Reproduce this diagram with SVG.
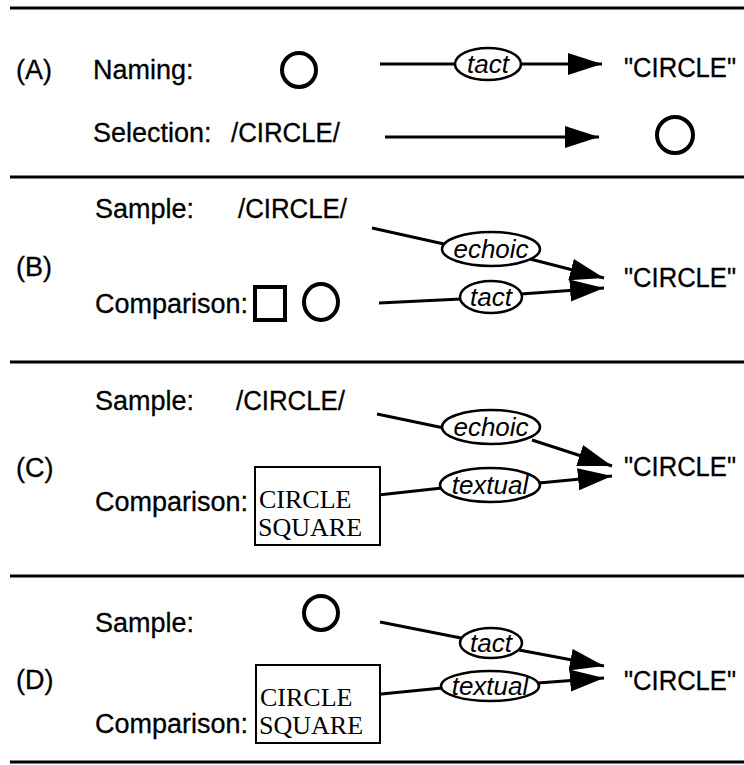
<svg xmlns="http://www.w3.org/2000/svg" width="744" height="765" viewBox="0 0 744 765">
  <defs>
    <marker id="head" markerUnits="userSpaceOnUse" markerWidth="36" markerHeight="24" refX="34" refY="11" orient="auto">
      <path d="M0,0 L34,11 L0,22 Z" fill="#000"/>
    </marker>
    <style>
      .sans { font-family: "Liberation Sans", Arial, sans-serif; font-size: 27px; fill: #000; stroke: #000; stroke-width: 0.3; }
      .lbl { font-family: "Liberation Sans", Arial, sans-serif; font-size: 26px; font-style: italic; fill: #000; text-anchor: middle; }
      .serif { font-family: "Liberation Serif", "Times New Roman", serif; font-size: 26px; fill: #000; }
      .rule { stroke: #000; stroke-width: 3; }
      .wire { stroke: #000; stroke-width: 3; fill: none; }
      .arrow { stroke: #000; stroke-width: 3; fill: none; marker-end: url(#head); }
      .oval { fill: #fff; stroke: #000; stroke-width: 2.5; }
      .shape { fill: none; stroke: #000; stroke-width: 4; }
      .box { fill: #fff; stroke: #000; stroke-width: 2; }
    </style>
  </defs>
  <rect width="744" height="765" fill="#fff"/>

  <!-- section rules -->
  <g id="rules">
    <line class="rule" x1="10" y1="8" x2="744" y2="8"/>
    <line class="rule" x1="10" y1="177" x2="744" y2="177"/>
    <line class="rule" x1="10" y1="362" x2="744" y2="362"/>
    <line class="rule" x1="10" y1="576" x2="744" y2="576"/>
    <line class="rule" x1="10" y1="762" x2="744" y2="762"/>
  </g>

  <!-- connectors -->
  <g id="connectors">
    <!-- A: naming -->
    <line class="wire" x1="380" y1="64" x2="455" y2="64"/>
    <line class="arrow" x1="521" y1="64" x2="602" y2="64"/>
    <!-- A: selection -->
    <line class="arrow" x1="385" y1="137" x2="599" y2="137"/>
    <!-- B -->
    <line class="wire" x1="372" y1="228" x2="444" y2="244"/>
    <line class="arrow" x1="530" y1="259" x2="604" y2="278"/>
    <line class="wire" x1="379" y1="303" x2="461" y2="299"/>
    <line class="arrow" x1="521" y1="294" x2="604" y2="288"/>
    <!-- C -->
    <line class="wire" x1="377" y1="414" x2="444" y2="428"/>
    <line class="arrow" x1="532" y1="440" x2="612" y2="466"/>
    <line class="wire" x1="351" y1="498" x2="442" y2="488"/>
    <line class="arrow" x1="539" y1="483" x2="612" y2="476"/>
    <!-- D -->
    <line class="wire" x1="380" y1="622" x2="461" y2="638"/>
    <line class="arrow" x1="519" y1="650" x2="604" y2="666"/>
    <line class="wire" x1="351" y1="697" x2="442" y2="688"/>
    <line class="arrow" x1="538" y1="683" x2="604" y2="678"/>
  </g>

  <!-- section A -->
  <g id="sectionA">
    <text class="sans" x="16" y="79">(A)</text>
    <text class="sans" x="93" y="79">Naming:</text>
    <circle class="shape" cx="299" cy="70" r="17"/>
    <g id="tactA">
      <ellipse class="oval" cx="488" cy="64" rx="33" ry="16"/>
      <text class="lbl" x="488" y="73">tact</text>
    </g>
    <text class="sans" x="624" y="77" textLength="112" lengthAdjust="spacingAndGlyphs">"CIRCLE"</text>
    <text class="sans" x="93" y="142">Selection:</text>
    <text class="sans" x="231" y="142" textLength="109" lengthAdjust="spacingAndGlyphs">/CIRCLE/</text>
    <circle class="shape" cx="675" cy="135" r="18"/>
  </g>

  <!-- section B -->
  <g id="sectionB">
    <text class="sans" x="16" y="276">(B)</text>
    <text class="sans" x="95" y="218">Sample:</text>
    <text class="sans" x="238" y="218" textLength="109" lengthAdjust="spacingAndGlyphs">/CIRCLE/</text>
    <text class="sans" x="95" y="313">Comparison:</text>
    <rect class="shape" x="255" y="287" width="30" height="33"/>
    <ellipse class="shape" cx="321" cy="302" rx="17" ry="18"/>
    <g id="echoicB">
      <ellipse class="oval" cx="491" cy="249" rx="49" ry="17"/>
      <text class="lbl" x="491" y="258">echoic</text>
    </g>
    <g id="tactB">
      <ellipse class="oval" cx="491" cy="297" rx="31" ry="16"/>
      <text class="lbl" x="491" y="306">tact</text>
    </g>
    <text class="sans" x="624" y="287" textLength="112" lengthAdjust="spacingAndGlyphs">"CIRCLE"</text>
  </g>

  <!-- section C -->
  <g id="sectionC">
    <text class="sans" x="16" y="477">(C)</text>
    <text class="sans" x="95" y="410">Sample:</text>
    <text class="sans" x="236" y="410" textLength="109" lengthAdjust="spacingAndGlyphs">/CIRCLE/</text>
    <text class="sans" x="95" y="511">Comparison:</text>
    <g id="wordsC">
      <rect class="box" x="255" y="467" width="125" height="78"/>
      <text class="serif" x="259" y="508">CIRCLE</text>
      <text class="serif" x="258" y="536">SQUARE</text>
    </g>
    <g id="echoicC">
      <ellipse class="oval" cx="491" cy="427" rx="49" ry="17"/>
      <text class="lbl" x="491" y="436">echoic</text>
    </g>
    <g id="textualC">
      <ellipse class="oval" cx="490" cy="485" rx="50" ry="17"/>
      <text class="lbl" x="490" y="494">textual</text>
    </g>
    <text class="sans" x="624" y="476" textLength="112" lengthAdjust="spacingAndGlyphs">"CIRCLE"</text>
  </g>

  <!-- section D -->
  <g id="sectionD">
    <text class="sans" x="16" y="689">(D)</text>
    <text class="sans" x="95" y="632">Sample:</text>
    <circle class="shape" cx="321" cy="613" r="17"/>
    <text class="sans" x="95" y="733">Comparison:</text>
    <g id="wordsD">
      <rect class="box" x="256" y="665" width="124" height="78"/>
      <text class="serif" x="260" y="706">CIRCLE</text>
      <text class="serif" x="259" y="734">SQUARE</text>
    </g>
    <g id="tactD">
      <ellipse class="oval" cx="491" cy="643" rx="31" ry="15"/>
      <text class="lbl" x="491" y="652">tact</text>
    </g>
    <g id="textualD">
      <ellipse class="oval" cx="490" cy="686" rx="49" ry="15"/>
      <text class="lbl" x="490" y="695">textual</text>
    </g>
    <text class="sans" x="624" y="690" textLength="112" lengthAdjust="spacingAndGlyphs">"CIRCLE"</text>
  </g>
</svg>
